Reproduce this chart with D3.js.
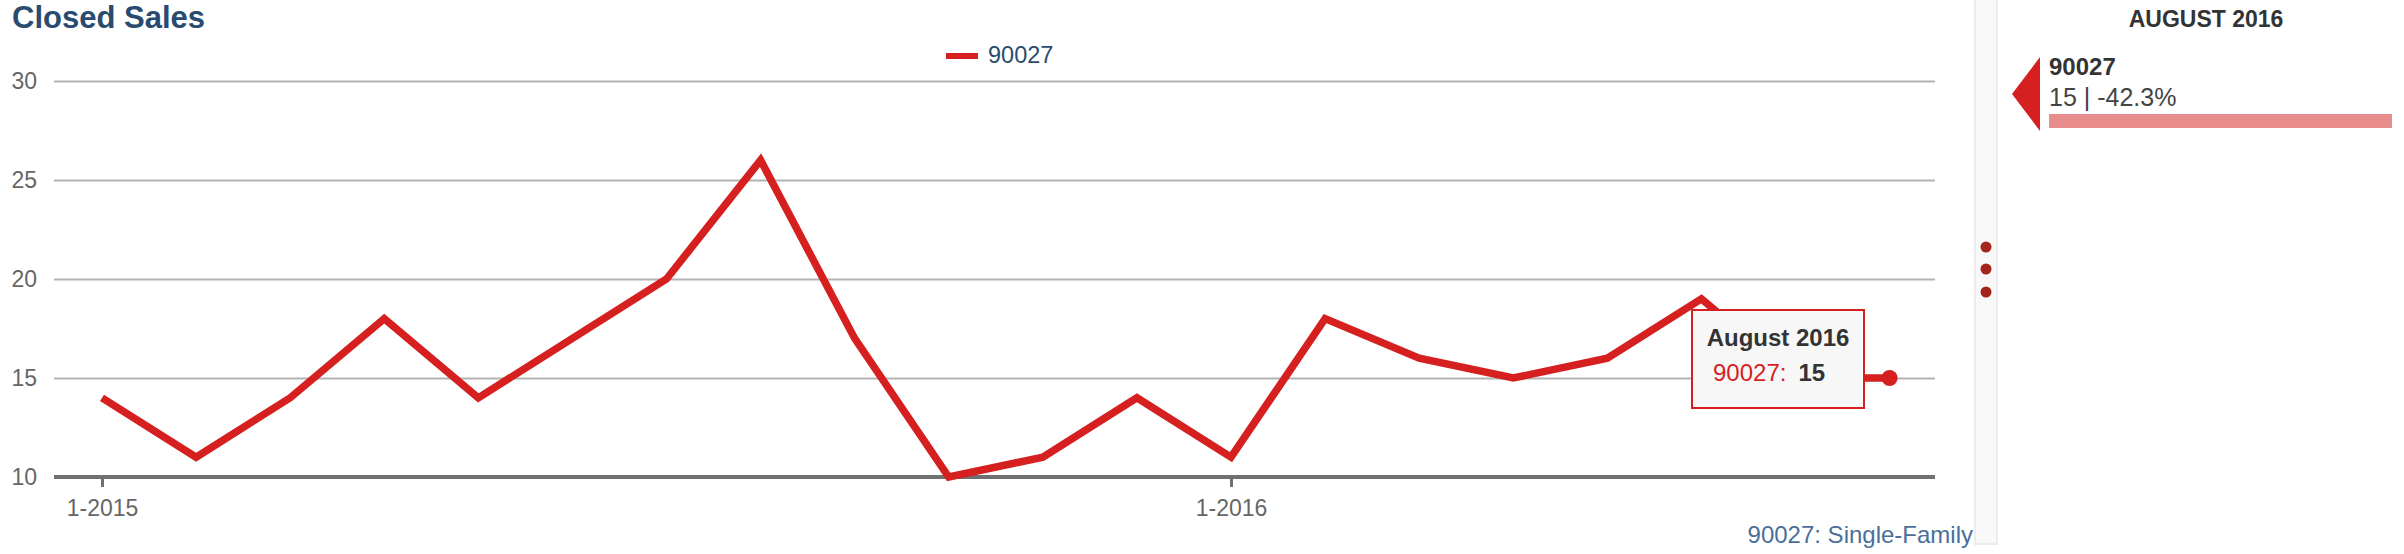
<!DOCTYPE html>
<html>
<head>
<meta charset="utf-8">
<script src="https://cdn.jsdelivr.net/npm/d3@7"></script>
<style>
  html, body { margin: 0; padding: 0; background: #fff; }
  svg { display: block; font-family: "Liberation Sans", Arial, Helvetica, sans-serif; }
</style>
</head>
<body>
<svg id="chart" width="2404" height="554"></svg>
<script>
// ---- data ----
const months = ["Jan 2015","Feb 2015","Mar 2015","Apr 2015","May 2015","Jun 2015","Jul 2015","Aug 2015","Sep 2015","Oct 2015","Nov 2015","Dec 2015",
                "Jan 2016","Feb 2016","Mar 2016","Apr 2016","May 2016","Jun 2016","Jul 2016","August 2016"];
const sales90027 = [14, 11, 14, 18, 14, 17, 20, 26, 17, 10, 11, 14, 11, 18, 16, 15, 16, 19, 15, 15];
const yTicks = [10, 15, 20, 25, 30];
const xTickIdx = [0, 12];
const xTickLabels = ["1-2015", "1-2016"];
const seriesName = "90027";
const chartTitle = "Closed Sales";
const footerLabel = "90027: Single-Family";
const panelMonth = "AUGUST 2016";
const panelValue = "15 | -42.3%";
const tooltipTitle = "August 2016";

const RED = "#d61f1f";
const svg = d3.select("#chart");

const x = d3.scaleLinear().domain([0, 12]).range([102, 1231]);
const y = d3.scaleLinear().domain([10, 30]).range([477, 81]);
const plotLeft = 54, plotRight = 1935;

// title
svg.append("text").attr("x", 12).attr("y", 28)
  .attr("font-size", 31).attr("font-weight", "bold").attr("fill", "#284b6f")
  .text(chartTitle);

// legend
svg.append("rect").attr("x", 946).attr("y", 53).attr("width", 32).attr("height", 6).attr("fill", RED);
svg.append("text").attr("x", 988).attr("y", 63).attr("font-size", 23.5).attr("fill", "#2a4b6e").text(seriesName);

// gridlines + y labels
const yAxis = d3.axisLeft(y).tickValues(yTicks).tickSize(-(plotRight - plotLeft)).tickPadding(17).tickFormat(d3.format("d"));
const gy = svg.append("g").attr("transform", `translate(${plotLeft},0)`).call(yAxis);
gy.select(".domain").remove();
gy.selectAll(".tick line").attr("stroke", "#b3b3b3").attr("stroke-width", 2);
gy.selectAll(".tick text").attr("font-size", 23).attr("fill", "#666").attr("font-family", "Liberation Sans, Arial, sans-serif");
gy.selectAll(".tick").filter(d => d === 10).select("line").remove();

// x axis baseline
svg.append("line").attr("x1", plotLeft).attr("x2", plotRight).attr("y1", y(10)).attr("y2", y(10))
  .attr("stroke", "#707070").attr("stroke-width", 4);
const xAxis = d3.axisBottom(x).tickValues(xTickIdx).tickSize(10).tickPadding(13)
  .tickFormat((d, i) => xTickLabels[i]);
const gx = svg.append("g").attr("transform", `translate(0,${y(10)})`).call(xAxis);
gx.select(".domain").remove();
gx.selectAll(".tick line").attr("stroke", "#707070").attr("stroke-width", 3);
gx.selectAll(".tick text").attr("font-size", 23).attr("fill", "#666").attr("font-family", "Liberation Sans, Arial, sans-serif");

// line
const line = d3.line().x((d, i) => x(i)).y(d => y(d));
svg.append("path").datum(sales90027).attr("d", line)
  .attr("fill", "none").attr("stroke", RED).attr("stroke-width", 7.5).attr("stroke-linejoin", "miter");

// highlighted last point
const last = sales90027.length - 1;
svg.append("circle").attr("cx", x(last)).attr("cy", y(sales90027[last])).attr("r", 8).attr("fill", RED);

// tooltip
const tt = svg.append("g");
tt.append("rect").attr("x", 1692).attr("y", 310).attr("width", 172).attr("height", 98)
  .attr("fill", "#f7f7f7").attr("stroke", RED).attr("stroke-width", 2);
tt.append("text").attr("x", 1778).attr("y", 346).attr("text-anchor", "middle")
  .attr("font-size", 24).attr("font-weight", "bold").attr("fill", "#333").text(tooltipTitle);
const tline = tt.append("text").attr("x", 1713).attr("y", 381).attr("font-size", 24).attr("xml:space", "preserve");
tline.append("tspan").attr("fill", RED).text(seriesName + ":");
tline.append("tspan").attr("dx", 12).attr("font-weight", "bold").attr("fill", "#333").text(sales90027[last]);

// footer
svg.append("text").attr("x", 1973).attr("y", 543).attr("text-anchor", "end")
  .attr("font-size", 24).attr("fill", "#4a6f9b").text(footerLabel);

// sidebar strip
svg.append("rect").attr("x", 1975).attr("y", -2).attr("width", 22).attr("height", 546)
  .attr("fill", "#f8f8f8").attr("stroke", "#ececec").attr("stroke-width", 2);
[247, 269, 292].forEach(cy => svg.append("circle").attr("cx", 1986).attr("cy", cy).attr("r", 5.5).attr("fill", "#a3251e"));

// right panel
svg.append("text").attr("x", 2206).attr("y", 27).attr("text-anchor", "middle")
  .attr("font-size", 23).attr("font-weight", "bold").attr("fill", "#333").text(panelMonth);
svg.append("path").attr("d", "M2040,57 L2012,94 L2040,131 Z").attr("fill", RED);
svg.append("text").attr("x", 2049).attr("y", 75).attr("font-size", 24).attr("font-weight", "bold").attr("fill", "#333").text(seriesName);
svg.append("text").attr("x", 2049).attr("y", 106).attr("font-size", 25).attr("fill", "#444").text(panelValue);
svg.append("rect").attr("x", 2049).attr("y", 114).attr("width", 343).attr("height", 14).attr("fill", "#e98c8c");
</script>
</body>
</html>
